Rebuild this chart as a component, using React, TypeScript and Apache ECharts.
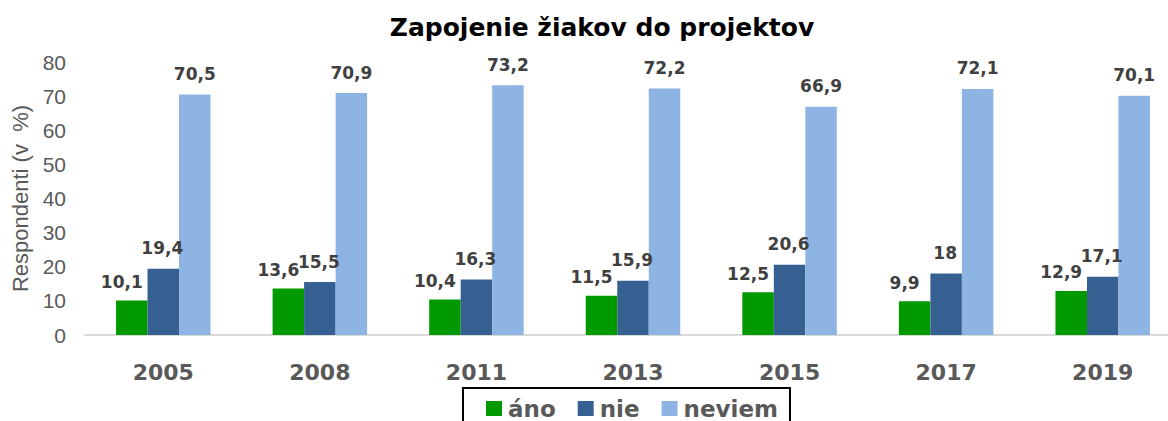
import React, { useEffect, useRef } from "react";
import * as echarts from "echarts";

const titleText = "Zapojenie žiakov do projektov";
const yAxisName = "Respondenti (v  %)";
const years = ["2005", "2008", "2011", "2013", "2015", "2017", "2019"];
const seriesNames = ["áno", "nie", "neviem"];
const anoValues = [10.1, 13.6, 10.4, 11.5, 12.5, 9.9, 12.9];
const nieValues = [19.4, 15.5, 16.3, 15.9, 20.6, 18, 17.1];
const neviemValues = [70.5, 70.9, 73.2, 72.2, 66.9, 72.1, 70.1];
const yTicks = { min: 0, max: 80, interval: 10 };

const colors = ["#009900", "#376092", "#8EB4E3"];
const labelOffsets: [number, number][] = [[-10, -4], [-1, -6], [0, -6]];

const fmt = (v: number) => String(v).replace(".", ",");

export default function App() {
  const ref = useRef<HTMLDivElement>(null);
  useEffect(() => {
    if (!ref.current) return;
    const chart = echarts.init(ref.current, null, { renderer: "svg" });
    const values = [anoValues, nieValues, neviemValues];
    chart.setOption({
      animation: false,
      backgroundColor: "#ffffff",
      title: {
        text: titleText,
        left: 597,
        textAlign: "center",
        top: 10,
        textStyle: {
          fontFamily: "DejaVu Sans",
          fontWeight: "bold",
          fontSize: 25,
          color: "#000000",
        },
      },
      legend: {
        data: seriesNames,
        left: 463,
        top: 388,
        orient: "horizontal",
        itemWidth: 16,
        itemHeight: 15,
        itemGap: 22,
        padding: [9, 12, 30, 23],
        borderColor: "#000000",
        borderWidth: 2,
        icon: "rect",
        textStyle: {
          fontFamily: "DejaVu Sans",
          fontWeight: "bold",
          fontSize: 23,
          color: "#595959",
          padding: [0, 0, 0, 1],
        },
      },
      grid: { left: 85, top: 62, height: 273, width: 1096 },
      xAxis: {
        type: "category",
        data: years,
        axisLine: { lineStyle: { color: "#d9d9d9", width: 2 } },
        axisTick: { show: false },
        axisLabel: {
          margin: 26,
          fontFamily: "DejaVu Sans",
          fontWeight: "bold",
          fontSize: 22,
          color: "#595959",
        },
      },
      yAxis: {
        type: "value",
        min: yTicks.min,
        max: yTicks.max,
        interval: yTicks.interval,
        name: yAxisName,
        nameLocation: "middle",
        nameGap: 52,
        nameTextStyle: {
          fontFamily: "Liberation Sans",
          fontSize: 22,
          color: "#595959",
        },
        axisLine: { show: false },
        axisTick: { show: false },
        splitLine: { show: false },
        axisLabel: {
          margin: 19,
          fontFamily: "Liberation Sans",
          fontSize: 21,
          color: "#595959",
        },
      },
      series: seriesNames.map((name, i) => ({
        name,
        type: "bar",
        data: values[i],
        barWidth: 31.5,
        barGap: "0%",
        itemStyle: { color: colors[i] },
        label: {
          show: true,
          position: "top",
          distance: 6,
          offset: labelOffsets[i],
          formatter: (p: any) => fmt(p.value),
          fontFamily: "DejaVu Sans",
          fontWeight: "bold",
          fontSize: 17,
          color: "#404040",
        },
      })),
    });
    return () => chart.dispose();
  }, []);
  return (
    <div
      style={{
        position: "fixed",
        left: 0,
        top: 0,
        width: 1168,
        height: 421,
        overflow: "hidden",
        background: "#ffffff",
      }}
    >
      <div ref={ref} style={{ width: 1200, height: 421 }} />
    </div>
  );
}
